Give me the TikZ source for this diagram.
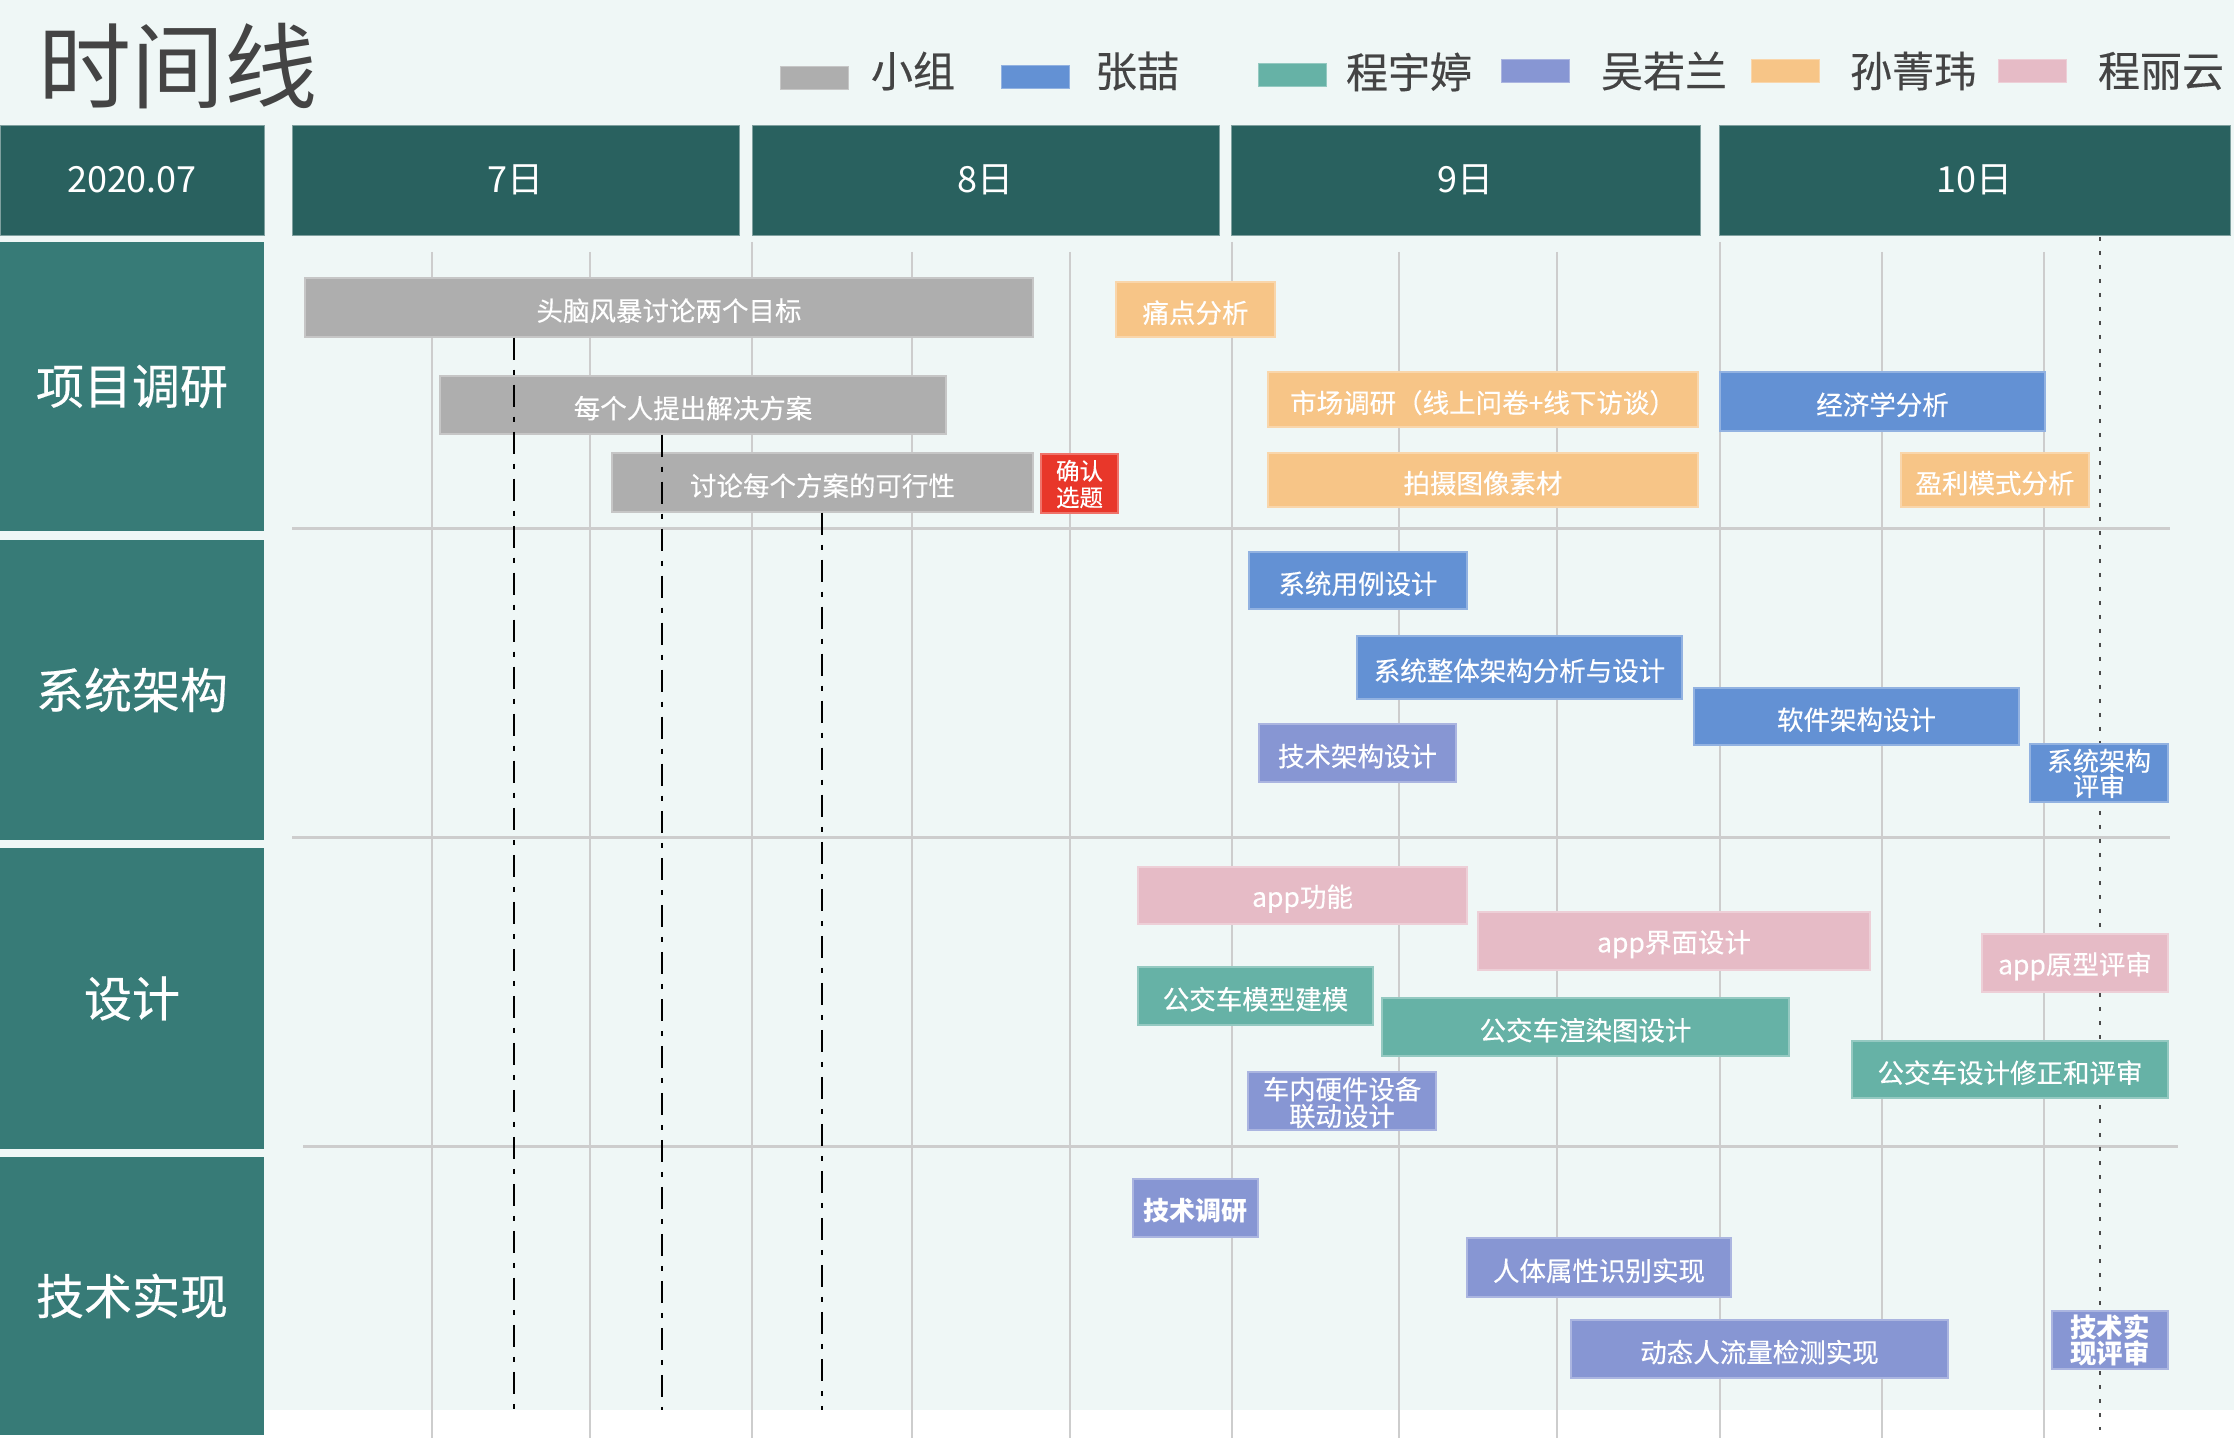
\documentclass[tikz,border=0pt]{standalone}
\usepackage{fontspec}
\setmainfont{Noto Sans CJK SC}
\newfontfamily\medfont{Noto Sans CJK SC}[FakeBold=0.35]
\definecolor{bgmint}{HTML}{EFF7F6}
\definecolor{hdr}{HTML}{29615F}
\definecolor{bandc}{HTML}{377B77}
\definecolor{cgray}{HTML}{AEAEAE}
\definecolor{cblue}{HTML}{6391D4}
\definecolor{cteal}{HTML}{66B2A6}
\definecolor{cpurple}{HTML}{8796D3}
\definecolor{corange}{HTML}{F7C587}
\definecolor{cpink}{HTML}{E6BBC6}
\definecolor{cred}{HTML}{E8372A}
\definecolor{gridc}{HTML}{CDCDCD}
\definecolor{txtdark}{HTML}{444444}
\tikzset{
  task/.style={rectangle, inner sep=0pt, line width=0.75pt},
  tasktext/.style={inner sep=0pt, text=white, font=\medfont\fontsize{13.25}{14}\selectfont, align=center},
  hdrbox/.style={rectangle, inner sep=0pt, fill=hdr, draw=hdr!60!white, line width=0.3pt},
  bandbox/.style={rectangle, inner sep=0pt, fill=bandc},
  swatch/.style={rectangle, inner sep=0pt, minimum width=34pt, minimum height=11.5pt, line width=0.5pt},
  legtext/.style={inner sep=0pt, text=txtdark, font=\medfont\fontsize{21}{23}\selectfont},
  hdrtext/.style={inner sep=0pt, text=white, font=\fontsize{18}{20}\selectfont},
  bandtext/.style={inner sep=0pt, text=white, font=\medfont\fontsize{24}{26}\selectfont},
  gridline/.style={draw=gridc, line width=1pt},
  sepline/.style={draw=gridc, line width=1.5pt},
  dashdotline/.style={draw=black, line width=1.1pt, dash pattern=on 11pt off 5pt on 2.5pt off 5pt},
  dotline/.style={draw=black!70, line width=1pt, dash pattern=on 2pt off 5pt},
}
\newcommand\taskbox[8][]{%
  \node[task, fill=#7, draw=#7!70!white, minimum width={(#5-#3)*0.5pt}, minimum height={(#6-#4)*0.5pt}] (#2) at ({(#3+#5)/2},{(#4+#6)/2}) {};
  \node[tasktext, yshift=-1.6pt, #1] (#2-t) at (#2) {#8};}
\newcommand\hdbox[6]{%
  \node[#6, minimum width={(#4-#2)*0.5pt}, minimum height={(#5-#3)*0.5pt}] (#1) at ({(#2+#4)/2},{(#3+#5)/2}) {};}
\begin{document}
\begin{tikzpicture}[x=0.5pt,y=-0.5pt]
\useasboundingbox (0,0) rectangle (2234,1438);
\fill[bgmint] (0,0) rectangle (2234,1410);
\fill[white] (0,1410) rectangle (2234,1438);

% title
\node[inner sep=0pt, text=txtdark, font=\fontsize{46.5}{50}\selectfont] (title) at (178,66) {时间线};

% legend
\node[swatch, fill=cgray, draw=cgray!70!white] (lg1) at (814,78) {};
\node[legtext] (lt1) at (913,71) {小组};
\node[swatch, fill=cblue, draw=cblue!70!white] (lg2) at (1035,77) {};
\node[legtext] (lt2) at (1137,71) {张喆};
\node[swatch, fill=cteal, draw=cteal!70!white] (lg3) at (1292,75) {};
\node[legtext] (lt3) at (1409,72) {程宇婷};
\node[swatch, fill=cpurple, draw=cpurple!70!white] (lg4) at (1535,71) {};
\node[legtext] (lt4) at (1664,71) {吴若兰};
\node[swatch, fill=corange, draw=corange!70!white] (lg5) at (1785,71) {};
\node[legtext] (lt5) at (1913,71) {孙菁玮};
\node[swatch, fill=cpink, draw=cpink!70!white] (lg6) at (2032,71) {};
\node[legtext] (lt6) at (2161,71) {程丽云};

% header
\hdbox{h0}{0}{125}{264}{235}{hdrbox}
\hdbox{h7}{292}{125}{739}{235}{hdrbox}
\hdbox{h8}{752}{125}{1219}{235}{hdrbox}
\hdbox{h9}{1231}{125}{1700}{235}{hdrbox}
\hdbox{h10}{1719}{125}{2230}{235}{hdrbox}
\node[hdrtext] (h0t) at (h0) {2020.07};
\node[hdrtext] (h7t) at (h7) {7日};
\node[hdrtext] (h8t) at (h8) {8日};
\node[hdrtext] (h9t) at (h9) {9日};
\node[hdrtext] (h10t) at (h10) {10日};

% bands
\hdbox{b1}{0}{242}{264}{531}{bandbox}
\hdbox{b2}{0}{540}{264}{840}{bandbox}
\hdbox{b3}{0}{848}{264}{1149}{bandbox}
\hdbox{b4}{0}{1157}{264}{1435}{bandbox}
\node[bandtext] (b1t) at (b1) {项目调研};
\node[bandtext] (b2t) at (b2) {系统架构};
\node[bandtext] (b3t) at (b3) {设计};
\node[bandtext] (b4t) at (b4) {技术实现};

% grid
\foreach \gx in {432,590,912,1070,1399,1557,1882,2044} {\draw[gridline] (\gx,252) -- (\gx,1438);}
\foreach \gx in {752,1232,1720} {\draw[gridline] (\gx,242) -- (\gx,1438);}
\draw[sepline] (292,529) -- (2170,529);
\draw[sepline] (292,837) -- (2170,837);
\draw[sepline] (303,1146) -- (2178,1146);

% dotted milestone line
\coordinate (mtop) at (2100,237);
\coordinate (mbot) at (2100,1430);
\draw[dotline] (mtop) -- (mbot);

% tasks: project research
\taskbox{t1}{305}{278}{1033}{337}{cgray}{头脑风暴讨论两个目标}
\taskbox{t2}{440}{376}{946}{434}{cgray}{每个人提出解决方案}
\taskbox{t3}{612}{453}{1033}{512}{cgray}{讨论每个方案的可行性}
\taskbox[font=\medfont\fontsize{11.75}{13.3}\selectfont, yshift=1.3pt]{t4}{1041}{454}{1118}{513}{cred}{确认\\选题}
\taskbox{t5}{1116}{282}{1275}{337}{corange}{痛点分析}
\taskbox{t6}{1268}{372}{1698}{427}{corange}{市场调研（线上问卷+线下访谈）}
\taskbox{t7}{1720}{372}{2045}{431}{cblue}{经济学分析}
\taskbox{t8}{1268}{453}{1698}{507}{corange}{拍摄图像素材}
\taskbox{t9}{1901}{453}{2089}{507}{corange}{盈利模式分析}
% system architecture
\taskbox{s1}{1249}{552}{1467}{609}{cblue}{系统用例设计}
\taskbox{s2}{1357}{636}{1682}{699}{cblue}{系统整体架构分析与设计}
\taskbox{s3}{1694}{688}{2019}{745}{cblue}{软件架构设计}
\taskbox{s4}{1259}{724}{1456}{782}{cpurple}{技术架构设计}
\taskbox[font=\medfont\fontsize{13}{12.6}\selectfont, yshift=1.4pt]{s5}{2030}{744}{2168}{802}{cblue}{系统架构\\评审}
% design
\taskbox{d1}{1138}{867}{1467}{924}{cpink}{app功能}
\taskbox{d2}{1478}{912}{1870}{970}{cpink}{app界面设计}
\taskbox{d3}{1982}{934}{2168}{992}{cpink}{app原型评审}
\taskbox{d4}{1138}{967}{1373}{1025}{cteal}{公交车模型建模}
\taskbox{d5}{1382}{998}{1789}{1056}{cteal}{公交车渲染图设计}
\taskbox{d6}{1852}{1041}{2168}{1098}{cteal}{公交车设计修正和评审}
\taskbox[font=\medfont\fontsize{13.2}{13.3}\selectfont, yshift=0.8pt]{d7}{1248}{1072}{1436}{1130}{cpurple}{车内硬件设备\\联动设计}
% implementation
\taskbox[font=\bfseries\fontsize{13}{14}\selectfont]{i1}{1133}{1179}{1258}{1237}{cpurple}{技术调研}
\taskbox{i2}{1467}{1238}{1731}{1297}{cpurple}{人体属性识别实现}
\taskbox{i3}{1571}{1320}{1948}{1378}{cpurple}{动态人流量检测实现}
\taskbox[font=\bfseries\fontsize{13.2}{12.9}\selectfont, yshift=1.6pt]{i4}{2052}{1311}{2168}{1369}{cpurple}{技术实\\现评审}

% dash-dot lines
\coordinate (e1) at (514,1410);
\coordinate (e2) at (662,1410);
\coordinate (e3) at (822,1410);
\draw[dashdotline] (t1.south -| e1) -- (e1);
\draw[dashdotline] (t2.south -| e2) -- (e2);
\draw[dashdotline] (t3.south -| e3) -- (e3);
\end{tikzpicture}
\end{document}
